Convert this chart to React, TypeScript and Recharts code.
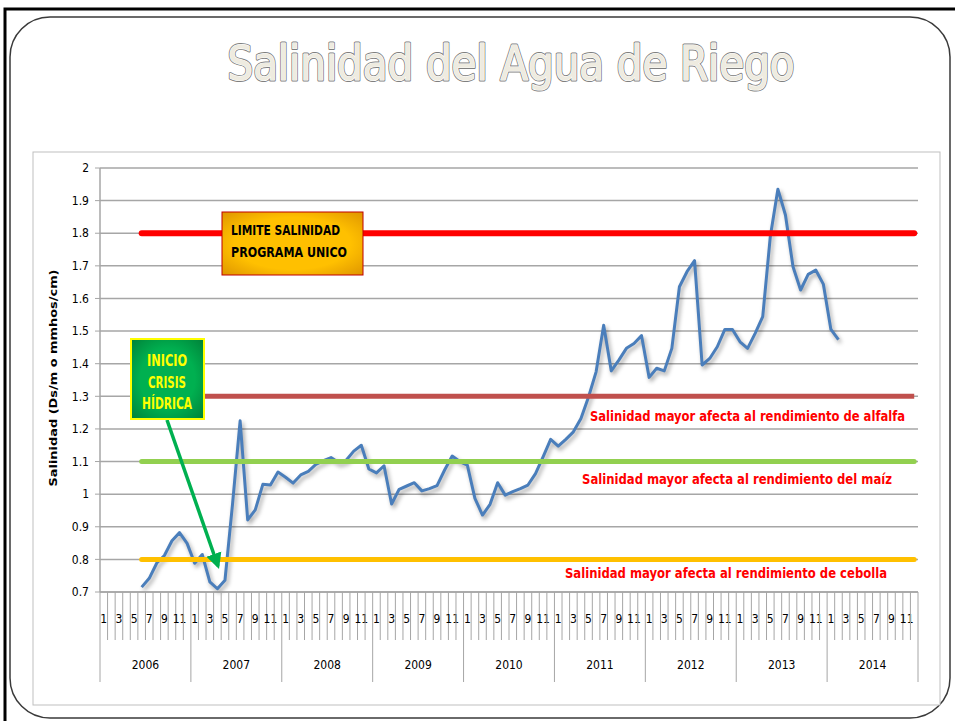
import React from "react";
import { CartesianGrid, Line, LineChart, XAxis, YAxis } from "recharts";

const YEARS = [2006, 2007, 2008, 2009, 2010, 2011, 2012, 2013, 2014];
const MONTHS = [1, 2, 3, 4, 5, 6, 7, 8, 9, 10, 11, 12];

// Ds/m, monthly Jan-2006 .. Dec-2014, null = no reading
const SALINIDAD = [
  null, null, null, null, null, 0.715, 0.742, 0.789, 0.812, 0.857, 0.882, 0.849, // 2006
  0.788, 0.815, 0.731, 0.71, 0.736, 0.97, 1.225, 0.921, 0.952, 1.03, 1.028, 1.068, // 2007
  1.052, 1.034, 1.059, 1.07, 1.091, 1.103, 1.112, 1.097, 1.104, 1.132, 1.15, 1.077, // 2008
  1.065, 1.087, 0.97, 1.015, 1.025, 1.035, 1.01, 1.017, 1.026, 1.074, 1.117, 1.1, // 2009
  1.089, 0.987, 0.936, 0.969, 1.035, 0.997, 1.008, 1.017, 1.028, 1.063, 1.114, 1.168, // 2010
  1.147, 1.168, 1.191, 1.232, 1.298, 1.375, 1.518, 1.378, 1.411, 1.447, 1.462, 1.486, // 2011
  1.358, 1.386, 1.378, 1.447, 1.636, 1.682, 1.716, 1.396, 1.416, 1.452, 1.505, 1.505, // 2012
  1.467, 1.447, 1.493, 1.544, 1.79, 1.935, 1.856, 1.697, 1.626, 1.674, 1.687, 1.644, // 2013
  1.505, 1.474, null, null, null, null, null, null, null, null, null, null, // 2014
];

// threshold levels, drawn from the first month with data to the end of the axis
const LIMITE_PROGRAMA = 1.8;
const LIMITE_ALFALFA = 1.3;
const LIMITE_MAIZ = 1.1;
const LIMITE_CEBOLLA = 0.8;
const LIMITE_DESDE = 5;

const Y_TICKS = [0.7, 0.8, 0.9, 1, 1.1, 1.2, 1.3, 1.4, 1.5, 1.6, 1.7, 1.8, 1.9, 2];

const rows = YEARS.flatMap((year, yi) =>
  MONTHS.map((month, mi) => {
    const i = yi * 12 + mi;
    const on = i >= LIMITE_DESDE;
    return {
      key: `${year}-${month}`,
      year,
      month,
      sal: SALINIDAD[i],
      programa: on ? LIMITE_PROGRAMA : null,
      alfalfa: on ? LIMITE_ALFALFA : null,
      maiz: on ? LIMITE_MAIZ : null,
      cebolla: on ? LIMITE_CEBOLLA : null,
    };
  })
);

const NARROW = "'Liberation Sans Narrow', 'DejaVu Sans Condensed', 'Open Sans', sans-serif";
const GRID = "#a6a6a6";
const PLOT_W = 818;
const BAND = PLOT_W / rows.length;

function MonthTick(props: any) {
  const { x, y, index } = props;
  const r = rows[index];
  if (!r) return null;
  const left = x - BAND / 2;
  const last = index === rows.length - 1;
  return (
    <g>
      <line x1={left} x2={left} y1={y} y2={y + (r.month === 1 ? 90 : 48)} stroke={GRID} strokeWidth={1} />
      {last && <line x1={x + BAND / 2} x2={x + BAND / 2} y1={y} y2={y + 90} stroke={GRID} strokeWidth={1} />}
      {r.month % 2 === 1 && (
        <text x={x} y={y + 31} textAnchor="middle" fontSize={12} fontFamily={NARROW} fill="#000">
          {r.month}
        </text>
      )}
      {r.month === 7 && (
        <text x={left} y={y + 77} textAnchor="middle" fontSize={12} fontFamily={NARROW} fill="#000">
          {r.year}
        </text>
      )}
    </g>
  );
}

function Frame() {
  return (
    <svg width={955} height={721} style={{ position: "absolute", left: 0, top: 0 }}>
      <rect x={0} y={0} width={955} height={721} fill="#fff" />
      <path d="M5 721 L5 9 L955 9" fill="none" stroke="#000" strokeWidth={3} />
      <rect x={10} y={17} width={940} height={701} rx={40} fill="#fff" stroke="#3a3a3a" strokeWidth={1.5} />
      <rect x={33} y={152} width={907} height={553} fill="#fff" stroke="#bfbfbf" strokeWidth={1} />
      {[3, 1.2, 0].map((w, k) => (
        <text
          key={k}
          x={511}
          y={80}
          textAnchor="middle"
          fontSize={48}
          fontFamily={NARROW}
          textLength={567}
          lengthAdjust="spacingAndGlyphs"
          fill="#EEEBE0"
          stroke={k === 0 ? "#808080" : k === 1 ? "#fff" : "none"}
          strokeWidth={w}
          strokeLinejoin="round"
        >
          Salinidad del Agua de Riego
        </text>
      ))}
    </svg>
  );
}

function Notes() {
  const red = { fill: "#FF0000", fontFamily: NARROW, fontWeight: 700, fontSize: 14.5 } as const;
  return (
    <svg width={955} height={721} style={{ position: "absolute", left: 0, top: 0, pointerEvents: "none" }}>
      <defs>
        <radialGradient id="gOr" cx="50%" cy="50%" r="75%">
          <stop offset="55%" stopColor="#FFC000" />
          <stop offset="100%" stopColor="#D98E00" />
        </radialGradient>
        <radialGradient id="gGr" cx="50%" cy="50%" r="75%">
          <stop offset="50%" stopColor="#00B050" />
          <stop offset="100%" stopColor="#007A35" />
        </radialGradient>
        <marker id="arr" viewBox="0 0 10 10" refX="8" refY="5" markerWidth="4.5" markerHeight="5" orient="auto">
          <path d="M0 0 L10 5 L0 10 z" fill="#00B050" />
        </marker>
      </defs>

      <text x={57} y={378} transform="rotate(-90 57 378)" textAnchor="middle" fontSize={11} fontWeight={700}
        fontFamily={NARROW} textLength={217} lengthAdjust="spacingAndGlyphs">
        Salinidad  (Ds/m o mmhos/cm)
      </text>

      <rect x={222} y={212} width={141} height={63} fill="url(#gOr)" stroke="#C00000" strokeWidth={1} />
      <text x={231} y={235} fontSize={14.5} fontWeight={700} fontFamily={NARROW} textLength={109} lengthAdjust="spacingAndGlyphs">
        LIMITE SALINIDAD
      </text>
      <text x={231} y={257} fontSize={14.5} fontWeight={700} fontFamily={NARROW} textLength={116} lengthAdjust="spacingAndGlyphs">
        PROGRAMA UNICO
      </text>

      <line x1={167} y1={420} x2={218} y2={566} stroke="#00B050" strokeWidth={3.5} markerEnd="url(#arr)" />
      <rect x={131} y={339} width={73} height={80} fill="url(#gGr)" stroke="#FFFF00" strokeWidth={2} />
      {["INICIO", "CRISIS", "HÍDRICA"].map((t, k) => (
        <text key={t} x={167} y={366 + k * 21.5} textAnchor="middle" fontSize={15.5} fontWeight={700}
          fontFamily={NARROW} fill="#FFFF00" textLength={[40, 38, 50][k]} lengthAdjust="spacingAndGlyphs">
          {t}
        </text>
      ))}

      <text x={590} y={421} {...red} textLength={315} lengthAdjust="spacingAndGlyphs">
        Salinidad mayor afecta al rendimiento de alfalfa
      </text>
      <text x={582} y={484} {...red} textLength={310} lengthAdjust="spacingAndGlyphs">
        Salinidad mayor afecta al rendimiento del maíz
      </text>
      <text x={565} y={578} {...red} textLength={322} lengthAdjust="spacingAndGlyphs">
        Salinidad mayor afecta al rendimiento de cebolla
      </text>
    </svg>
  );
}

export default function App() {
  return (
    <div style={{ position: "absolute", left: 0, top: 0, width: 955, height: 721, background: "#fff" }}>
      <Frame />
      <div style={{ position: "absolute", left: 33, top: 152 }}>
        <LineChart width={907} height={553} data={rows} margin={{ top: 16, right: 22, bottom: 0, left: 0 }}>
          <CartesianGrid vertical={false} stroke={GRID} strokeWidth={1.5} />
          <XAxis
            dataKey="key"
            scale="band"
            interval={0}
            height={113}
            tickLine={false}
            tickSize={0}
            tickMargin={0}
            axisLine={{ stroke: GRID, strokeWidth: 1.5 }}
            tick={<MonthTick />}
          />
          <YAxis
            type="number"
            domain={[0.7, 2]}
            ticks={Y_TICKS}
            width={67}
            tickSize={5}
            tickMargin={6}
            axisLine={{ stroke: GRID, strokeWidth: 1.5 }}
            tickLine={{ stroke: GRID }}
            tick={{ fontSize: 12, fill: "#000", fontFamily: NARROW }}
            tickFormatter={(v: number) => String(+v.toFixed(1))}
          />
          <Line
            dataKey="sal"
            stroke="#4A7EBB"
            strokeWidth={3}
            dot={false}
            activeDot={false}
            strokeLinejoin="round"
            isAnimationActive={false}
            style={{ filter: "drop-shadow(2px 3px 2px rgba(0,0,0,0.35))" }}
          />
          <Line dataKey="programa" stroke="#FF0000" strokeWidth={6} strokeLinecap="round" dot={false} activeDot={false} isAnimationActive={false} />
          <Line dataKey="alfalfa" stroke="#C0504D" strokeWidth={5} dot={false} activeDot={false} isAnimationActive={false} />
          <Line dataKey="maiz" stroke="#92D050" strokeWidth={5} strokeLinecap="round" dot={false} activeDot={false} isAnimationActive={false} />
          <Line dataKey="cebolla" stroke="#FFC000" strokeWidth={5} strokeLinecap="round" dot={false} activeDot={false} isAnimationActive={false} />
        </LineChart>
      </div>
      <Notes />
    </div>
  );
}
